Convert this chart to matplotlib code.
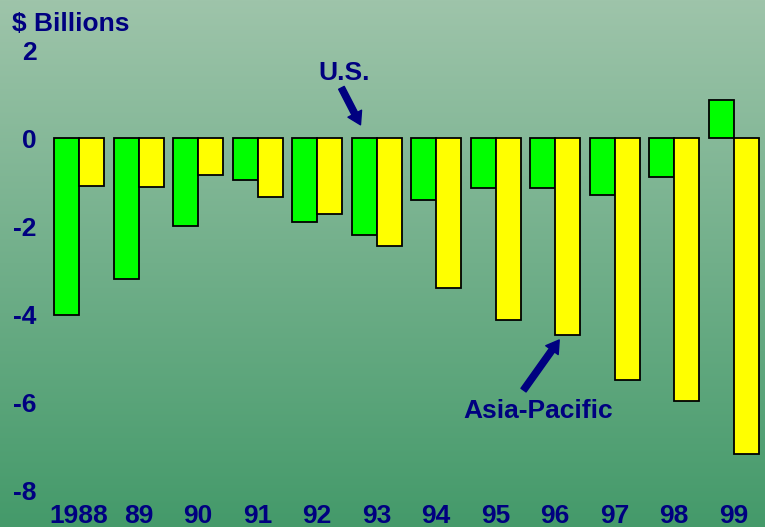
import numpy as np
import matplotlib.pyplot as plt
from matplotlib.colors import LinearSegmentedColormap

years = ['1988', '89', '90', '91', '92', '93', '94', '95', '96', '97', '98', '99']
us = [-4.03, -3.2, -2.0, -0.95, -1.9, -2.2, -1.42, -1.13, -1.13, -1.29, -0.88, 0.86]
asia = [-1.08, -1.12, -0.85, -1.35, -1.73, -2.46, -3.4, -4.13, -4.47, -5.5, -5.98, -7.18]
yticks = [2, 0, -2, -4, -6, -8]

navy = '#000080'
sans = ['Liberation Sans', 'DejaVu Sans']
narrow = ['Liberation Sans Narrow', 'Liberation Sans', 'DejaVu Sans']

fig = plt.figure(figsize=(7.65, 5.27), dpi=100)

# background gradient
bg = fig.add_axes([0, 0, 1, 1], zorder=0)
cmap = LinearSegmentedColormap.from_list('bg', ['#9ec4aa', '#449a6a'])
bg.imshow(np.linspace(0, 1, 256).reshape(-1, 1), aspect='auto', cmap=cmap,
          extent=[0, 1, 0, 1])
bg.axis('off')

ax = fig.add_axes([49.3 / 765, 37 / 527, 714 / 765, 440 / 527], zorder=1)
ax.patch.set_alpha(0)
x = np.arange(len(years))
w = 0.42
ax.bar(x - w / 2, us, w, color='#00ff00', edgecolor='black', linewidth=1.3)
ax.bar(x + w / 2, asia, w, color='#ffff00', edgecolor='black', linewidth=1.3)

ax.set_xlim(-0.5, 11.5)
ax.set_ylim(-8, 2)
ax.set_yticks(yticks)
ax.set_yticklabels([str(v) for v in yticks], fontsize=19, fontweight='bold',
                   color=navy, family=sans)
ax.set_xticks(x)
ax.set_xticklabels(years, fontsize=19, fontweight='bold', color=navy, family=narrow)
ax.tick_params(axis='y', length=0, pad=9)
ax.tick_params(axis='x', length=0, pad=10)
for s in ax.spines.values():
    s.set_visible(False)

fig.text(12 / 765, 1 - 24 / 527, '$ Billions', fontsize=19, fontweight='bold',
         color=navy, va='center', ha='left', family=sans)

arrow = dict(arrowstyle='simple,head_width=1.1,head_length=0.9,tail_width=0.45',
             color=navy, shrinkA=0, shrinkB=0)
ax.annotate('', xy=(4.73, 0.3), xytext=(4.41, 1.14), arrowprops=arrow)
ax.text(4.457, 1.48, 'U.S.', fontsize=19, fontweight='bold', color=navy,
        ha='center', va='center', family=sans)

ax.annotate('', xy=(8.07, -4.59), xytext=(7.47, -5.73), arrowprops=arrow)
ax.text(7.72, -6.2, 'Asia-Pacific', fontsize=19, fontweight='bold', color=navy,
        ha='center', va='center', family=sans)

fig.savefig('out.png', dpi=100)
